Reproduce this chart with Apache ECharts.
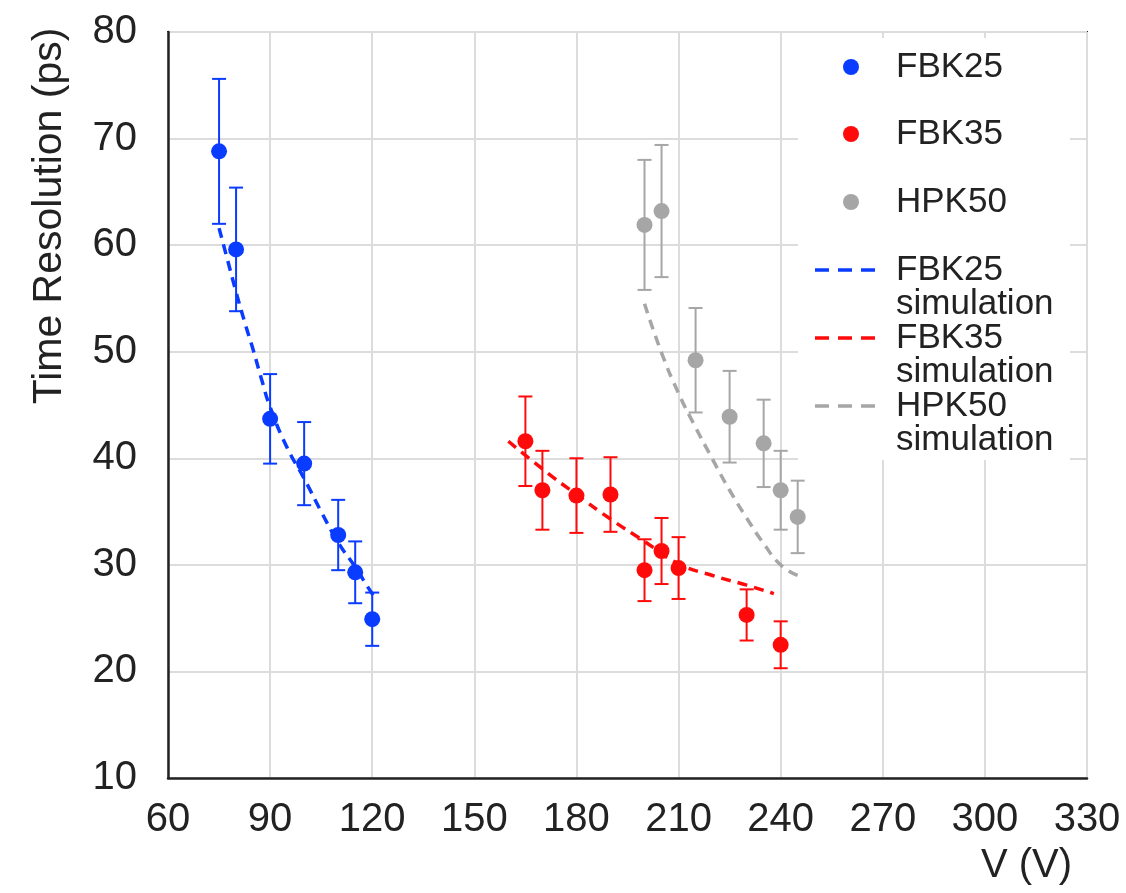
<!DOCTYPE html>
<html><head><meta charset="utf-8">
<script src="https://cdn.jsdelivr.net/npm/echarts@6/dist/echarts.min.js"></script>
<style>html,body{margin:0;padding:0;background:#fff}#c{width:1126px;height:893px}</style>
</head><body><div id="c"></div>
<script>
// ---- data ----
const fbk25V = [75, 80, 90, 100, 110, 115, 120];
const fbk25T = [68.8, 59.6, 43.7, 39.5, 32.8, 29.3, 24.9];
const fbk25E = [6.8, 5.8, 4.2, 3.9, 3.3, 2.9, 2.5];

const fbk35V = [165, 170, 180, 190, 200, 205, 210, 230, 240];
const fbk35T = [41.6, 37.0, 36.5, 36.6, 29.5, 31.3, 29.7, 25.3, 22.5];
const fbk35E = [4.2, 3.7, 3.5, 3.5, 2.9, 3.1, 2.9, 2.4, 2.2];

const hpk50V = [200, 205, 215, 225, 235, 240, 245];
const hpk50T = [61.9, 63.2, 49.2, 43.9, 41.4, 37.0, 34.5];
const hpk50E = [6.1, 6.2, 4.9, 4.3, 4.1, 3.7, 3.4];

const fbk25SimV = [75, 77.5, 80, 82.5, 85, 87.5, 90, 95, 100, 105, 110, 115, 120, 121.5];
const fbk25SimT = [61.6, 58.6, 55.6, 52.8, 50.2, 47.4, 44.8, 41.0, 38.1, 35.0, 32.1, 29.8, 27.3, 26.8];
const fbk35SimV = [160, 170, 180, 190, 200, 210, 220, 230, 238];
const fbk35SimT = [41.6, 39.0, 36.6, 34.3, 32.2, 30.1, 29.0, 28.1, 27.3];
const hpk50SimV = [200, 205, 210, 215, 220, 225, 230, 235, 240, 245];
const hpk50SimT = [54.5, 49.9, 46.1, 42.9, 39.9, 37.0, 34.4, 32.0, 30.0, 29.0];

const xTicks = [60, 90, 120, 150, 180, 210, 240, 270, 300, 330];
const yTicks = [10, 20, 30, 40, 50, 60, 70, 80];

const cBlue = '#0a3cff', cRed = '#ff0a0a', cGrey = '#a6a6a6';
const FONT = '"Liberation Sans", Arial, Helvetica, sans-serif';

function zip(a, b, c) { return a.map((v, i) => c ? [v, b[i], c[i]] : [v, b[i]]); }

function errSeries(V, T, E, color) {
  return {
    type: 'custom',
    data: zip(V, T, E),
    z: 3,
    silent: true,
    renderItem: function (params, api) {
      const x = api.value(0), y = api.value(1), e = api.value(2);
      const top = api.coord([x, y + e]);
      const bot = api.coord([x, y - e]);
      const hw = 7;
      const st = { stroke: color, lineWidth: 2 };
      return {
        type: 'group',
        children: [
          { type: 'line', shape: { x1: top[0], y1: top[1], x2: bot[0], y2: bot[1] }, style: st },
          { type: 'line', shape: { x1: top[0] - hw, y1: top[1], x2: top[0] + hw, y2: top[1] }, style: st },
          { type: 'line', shape: { x1: bot[0] - hw, y1: bot[1], x2: bot[0] + hw, y2: bot[1] }, style: st }
        ]
      };
    }
  };
}
function pts(V, T, color) {
  return { type: 'scatter', data: zip(V, T), symbolSize: 16, z: 4, itemStyle: { color: color, opacity: 1 } };
}
function sim(V, T, color) {
  return { type: 'line', data: zip(V, T), smooth: true, showSymbol: false, z: 2,
    lineStyle: { color: color, width: 3.5, type: [10, 7] } };
}

const chart = echarts.init(document.getElementById('c'), null, { renderer: 'canvas' });

// legend drawn as graphics
const legX = 851, legTextX = 896, FS = 35;
const legendItems = [];
legendItems.push({ type: 'rect', shape: { x: 798, y: 38, width: 272, height: 422 }, style: { fill: '#fff' }, z: 10 });
[[cBlue, 'FBK25', 67], [cRed, 'FBK35', 134], [cGrey, 'HPK50', 202]].forEach(([c, t, y]) => {
  legendItems.push({ type: 'circle', shape: { cx: legX, cy: y, r: 8 }, style: { fill: c }, z: 11 });
  legendItems.push({ type: 'text', x: legTextX, y: y, style: { text: t, font: FS + 'px ' + FONT, fill: '#222', verticalAlign: 'middle' }, z: 11 });
});
[[cBlue, 'FBK25', 270], [cRed, 'FBK35', 338], [cGrey, 'HPK50', 406]].forEach(([c, t, y]) => {
  legendItems.push({ type: 'line', shape: { x1: 815, y1: y, x2: 879, y2: y }, style: { stroke: c, lineWidth: 3.5, lineDash: [14, 9] }, z: 11 });
  legendItems.push({ type: 'text', x: legTextX, y: y, style: { text: t, font: FS + 'px ' + FONT, fill: '#222', verticalAlign: 'middle' }, z: 11 });
  legendItems.push({ type: 'text', x: legTextX, y: y + 34, style: { text: 'simulation', font: FS + 'px ' + FONT, fill: '#222', verticalAlign: 'middle' }, z: 11 });
});
legendItems.push({ type: 'text', x: 50, y: 216, rotation: Math.PI / 2,
  style: { text: 'Time Resolution (ps)', font: '41px ' + FONT, fill: '#222', align: 'center', verticalAlign: 'middle' }, z: 11 });
legendItems.push({ type: 'text', x: 1072, y: 866,
  style: { text: 'V (V)', font: '40px ' + FONT, fill: '#222', align: 'right', verticalAlign: 'middle' }, z: 11 });

chart.setOption({
  animation: false,
  backgroundColor: '#fff',
  grid: { left: 168, top: 32, right: 39, bottom: 115, show: true, borderColor: '#222', borderWidth: 2, backgroundColor: 'transparent' },
  xAxis: {
    type: 'value', min: xTicks[0], max: xTicks[xTicks.length - 1], interval: 30,
    axisLine: { show: true, onZero: false, lineStyle: { color: '#222', width: 2.5 } },
    axisTick: { show: false },
    axisLabel: { fontSize: 40, fontFamily: FONT, color: '#222', margin: 22 },
    splitLine: { show: true, lineStyle: { color: '#dcdcdc', width: 2 } }
  },
  yAxis: {
    type: 'value', min: yTicks[0], max: yTicks[yTicks.length - 1], interval: 10,
    axisLine: { show: true, onZero: false, lineStyle: { color: '#222', width: 2.5 } },
    axisTick: { show: false },
    axisLabel: { fontSize: 40, fontFamily: FONT, color: '#222', margin: 31 },
    splitLine: { show: true, lineStyle: { color: '#dcdcdc', width: 2 } }
  },
  graphic: legendItems,
  series: [
    sim(fbk25SimV, fbk25SimT, cBlue),
    sim(fbk35SimV, fbk35SimT, cRed),
    sim(hpk50SimV, hpk50SimT, cGrey),
    errSeries(fbk25V, fbk25T, fbk25E, cBlue),
    errSeries(fbk35V, fbk35T, fbk35E, cRed),
    errSeries(hpk50V, hpk50T, hpk50E, cGrey),
    pts(fbk25V, fbk25T, cBlue),
    pts(fbk35V, fbk35T, cRed),
    pts(hpk50V, hpk50T, cGrey)
  ]
});
</script>
</body></html>
